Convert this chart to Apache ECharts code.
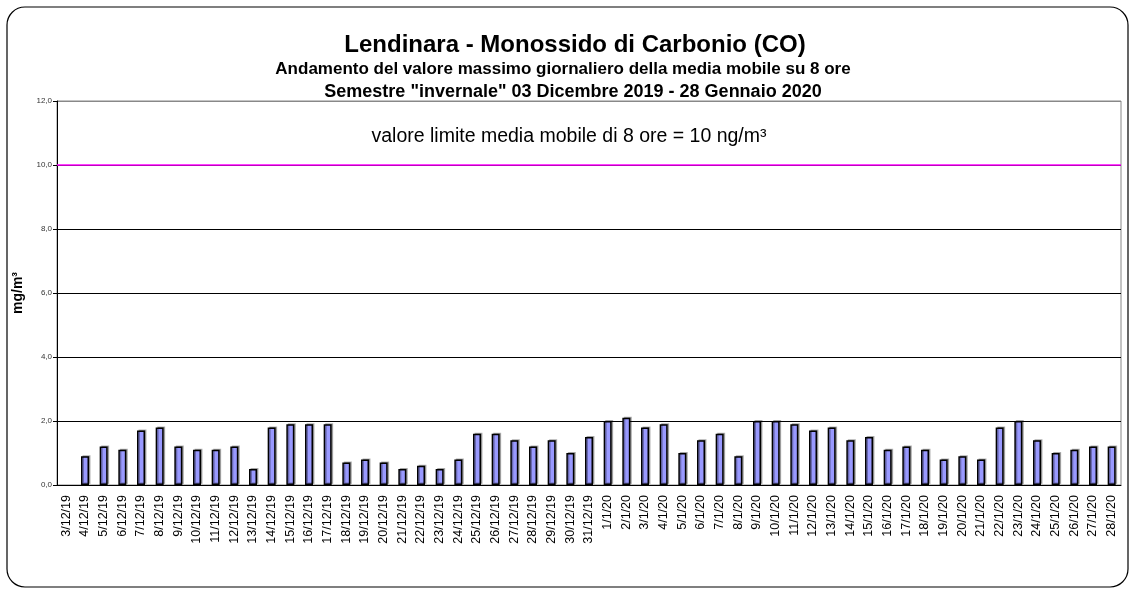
<!DOCTYPE html>
<html>
<head>
<meta charset="utf-8">
<script src="https://cdn.jsdelivr.net/npm/echarts@6/dist/echarts.min.js"></script>
<style>
  * { margin: 0; padding: 0; }
  body { background: #fff; }
  #chart { width: 1129px; height: 589px; }
</style>
</head>
<body>
<div id="chart"></div>
<script>
// giorni del semestre (3 dic 2019 - 28 gen 2020)
const days = [
  '3/12/19','4/12/19','5/12/19','6/12/19','7/12/19','8/12/19','9/12/19','10/12/19',
  '11/12/19','12/12/19','13/12/19','14/12/19','15/12/19','16/12/19','17/12/19','18/12/19',
  '19/12/19','20/12/19','21/12/19','22/12/19','23/12/19','24/12/19','25/12/19','26/12/19',
  '27/12/19','28/12/19','29/12/19','30/12/19','31/12/19',
  '1/1/20','2/1/20','3/1/20','4/1/20','5/1/20','6/1/20','7/1/20','8/1/20','9/1/20','10/1/20',
  '11/1/20','12/1/20','13/1/20','14/1/20','15/1/20','16/1/20','17/1/20','18/1/20','19/1/20',
  '20/1/20','21/1/20','22/1/20','23/1/20','24/1/20','25/1/20','26/1/20','27/1/20','28/1/20'
]

// max giornaliero media mobile 8h (mg/m3), 3/12 mancante
const coMax = [
  null, 0.9, 1.2, 1.1, 1.7, 1.8, 1.2, 1.1, 1.1, 1.2, 0.5, 1.8, 1.9, 1.9, 1.9, 0.7,
  0.8, 0.7, 0.5, 0.6, 0.5, 0.8, 1.6, 1.6, 1.4, 1.2, 1.4, 1.0, 1.5,
  2.0, 2.1, 1.8, 1.9, 1.0, 1.4, 1.6, 0.9, 2.0, 2.0,
  1.9, 1.7, 1.8, 1.4, 1.5, 1.1, 1.2, 1.1, 0.8,
  0.9, 0.8, 1.8, 2.0, 1.4, 1.0, 1.1, 1.2, 1.2
]

const limitValue = 10
const yMin = 0, yMax = 12, yStep = 2

const FONT = 'Liberation Sans, Arial, sans-serif'

const chart = echarts.init(document.getElementById('chart'))
chart.setOption({
  animation: false,
  textStyle: { fontFamily: FONT },
  graphic: [
    {
      type: 'rect',
      shape: { x: 7, y: 7, width: 1121, height: 580, r: 18 },
      style: { fill: 'none', stroke: '#000', lineWidth: 1.2 },
      z: -1
    },
    {
      type: 'text', x: 575, y: 45,
      style: {
        text: 'Lendinara - Monossido di Carbonio (CO)',
        align: 'center', verticalAlign: 'middle',
        font: 'bold 24px ' + FONT, fill: '#000'
      }
    },
    {
      type: 'text', x: 563, y: 69,
      style: {
        text: 'Andamento del valore massimo giornaliero della media mobile su 8 ore',
        align: 'center', verticalAlign: 'middle',
        font: 'bold 17px ' + FONT, fill: '#000'
      }
    },
    {
      type: 'text', x: 573, y: 92,
      style: {
        text: 'Semestre "invernale" 03 Dicembre 2019 - 28 Gennaio 2020',
        align: 'center', verticalAlign: 'middle',
        font: 'bold 18px ' + FONT, fill: '#000'
      }
    },
    {
      type: 'text', x: 569, y: 137,
      style: {
        text: 'valore limite media mobile di 8 ore = 10 ng/m³',
        align: 'center', verticalAlign: 'middle',
        font: '19.5px ' + FONT, fill: '#000'
      }
    }
  ],
  grid: {
    left: 57, right: 8, top: 101, bottom: 104,
    show: true, borderColor: '#888', borderWidth: 1
  },
  xAxis: {
    type: 'category',
    data: days,
    axisLine: { lineStyle: { color: '#000', width: 1 } },
    axisTick: { length: 5, lineStyle: { color: '#000' } },
    axisLabel: { interval: 0, rotate: 90, fontSize: 12.5, color: '#000', margin: 10 }
  },
  yAxis: {
    type: 'value',
    min: yMin, max: yMax, interval: yStep,
    name: 'mg/m³',
    nameLocation: 'middle',
    nameRotate: 90,
    nameGap: 27,
    nameTextStyle: { fontSize: 14, fontWeight: 'bold', color: '#000' },
    axisLine: { show: true, lineStyle: { color: '#000' } },
    axisTick: { show: true, length: 4, lineStyle: { color: '#000' } },
    axisLabel: {
      fontSize: 8, color: '#333', margin: 5,
      formatter: v => v.toFixed(1).replace('.', ',')
    },
    splitLine: {
      lineStyle: { color: ['#000', '#000', '#000', '#000', '#000', '#000', '#888'], width: 1 }
    }
  },
  series: [{
    type: 'bar',
    data: coMax,
    barWidth: 8,
    itemStyle: {
      color: '#9999ff', borderColor: '#000', borderWidth: 1.5,
      shadowColor: 'rgba(0,0,0,0.3)', shadowOffsetX: 1.5, shadowOffsetY: -1
    },
    markLine: {
      silent: true,
      symbol: 'none',
      label: { show: false },
      lineStyle: { color: '#ff00ff', width: 1.5, type: 'solid' },
      data: [{ yAxis: limitValue }]
    }
  }]
})
</script>
</body>
</html>
